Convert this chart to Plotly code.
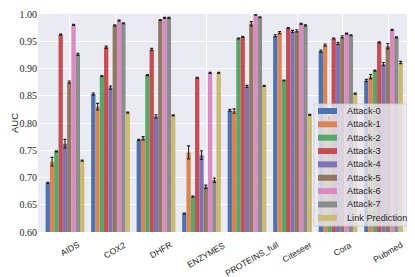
import plotly.graph_objects as go

categories = ["AIDS", "COX2", "DHFR", "ENZYMES", "PROTEINS_full", "Citeseer", "Cora", "Pubmed"]
series_names = ["Attack-0", "Attack-1", "Attack-2", "Attack-3", "Attack-4",
                "Attack-5", "Attack-6", "Attack-7", "Link Prediction"]

attack0 = [0.690, 0.853, 0.769, 0.634, 0.823, 0.960, 0.932, 0.878]
attack1 = [0.729, 0.830, 0.772, 0.746, 0.822, 0.966, 0.943, 0.885]
attack2 = [0.748, 0.886, 0.888, 0.665, 0.955, 0.878, 0.810, 0.896]
attack3 = [0.962, 0.939, 0.935, 0.883, 0.958, 0.974, 0.955, 0.948]
attack4 = [0.762, 0.865, 0.812, 0.741, 0.867, 0.968, 0.946, 0.908]
attack5 = [0.875, 0.979, 0.989, 0.683, 0.982, 0.969, 0.958, 0.941]
attack6 = [0.980, 0.988, 0.993, 0.892, 0.999, 0.982, 0.964, 0.971]
attack7 = [0.926, 0.983, 0.993, 0.695, 0.994, 0.979, 0.961, 0.957]
linkpred = [0.731, 0.819, 0.814, 0.892, 0.868, 0.815, 0.854, 0.911]

err0 = [0.001, 0.002, 0.001, 0.001, 0.002, 0.002, 0.002, 0.002]
err1 = [0.008, 0.006, 0.003, 0.012, 0.004, 0.002, 0.002, 0.004]
err2 = [0.001, 0.001, 0.001, 0.001, 0.001, 0.001, 0.002, 0.001]
err3 = [0.001, 0.002, 0.002, 0.001, 0.001, 0.001, 0.001, 0.001]
err4 = [0.008, 0.003, 0.003, 0.008, 0.002, 0.002, 0.002, 0.003]
err5 = [0.002, 0.001, 0.001, 0.003, 0.004, 0.002, 0.002, 0.005]
err6 = [0.001, 0.001, 0.001, 0.001, 0.001, 0.001, 0.001, 0.001]
err7 = [0.002, 0.001, 0.001, 0.004, 0.001, 0.001, 0.001, 0.001]
errlp = [0.001, 0.001, 0.001, 0.001, 0.001, 0.001, 0.001, 0.002]

y_ticks = [0.60, 0.65, 0.70, 0.75, 0.80, 0.85, 0.90, 0.95, 1.00]

values = [attack0, attack1, attack2, attack3, attack4, attack5, attack6, attack7, linkpred]
errors = [err0, err1, err2, err3, err4, err5, err6, err7, errlp]
colors = ["#4C72B0", "#DD8452", "#55A868", "#C44E52", "#8172B3",
          "#937860", "#DA8BC3", "#8C8C8C", "#CCB974"]

SANS = "Liberation Sans"
SERIF = "Liberation Serif"
TXT = "#262626"

xpos = list(range(len(categories)))
fig = go.Figure()
for name, vals, errs, col in zip(series_names, values, errors, colors):
    fig.add_trace(go.Bar(
        x=xpos, y=vals, name=name, marker=dict(color=col, line=dict(width=0)),
        error_y=dict(type="data", array=errs, color="#222222", thickness=1.1, width=1.5),
        showlegend=False,
    ))

# page geometry: the html body has an 8px margin, so the figure is offset by it
OFF = 8
PAGE_W, PAGE_H = 415, 277
PL, PR, PT, PB = 38, 411, 14, 232          # plot area on the page (px)
W, H = PAGE_W - OFF, PAGE_H - OFF
L, T = PL - OFF, PT - OFF
R, B = PAGE_W - PR, PAGE_H - PB
pw, ph = PR - PL, PB - PT

def px_x(p):
    return (p - PL) / pw

def px_y(p):
    return (PB - p) / ph

tick_off = 0.1
annotations = []
for i, c in enumerate(categories):
    annotations.append(dict(
        x=i + tick_off, xref="x", y=0, yref="paper", text=c, showarrow=False,
        textangle=-30, xanchor="center", yanchor="top", yshift=-5,
        font=dict(family=SANS, size=8.6, color=TXT)))

annotations.append(dict(x=px_x(14), xref="paper", y=0.5, yref="paper", text="AUC",
                        showarrow=False, textangle=-90, xanchor="center", yanchor="middle",
                        font=dict(family=SANS, size=9.5, color=TXT)))

shapes = []
# legend box
shapes.append(dict(type="rect", xref="paper", yref="paper",
                   x0=px_x(314), x1=px_x(407), y0=px_y(226), y1=px_y(104),
                   fillcolor="rgba(234,234,242,0.8)", line=dict(color="rgba(204,204,204,0.8)", width=1),
                   layer="above"))
for k, (name, col) in enumerate(zip(series_names, colors)):
    cy = 111 + 13.35 * k
    shapes.append(dict(type="rect", xref="paper", yref="paper",
                       x0=px_x(318), x1=px_x(337), y0=px_y(cy + 3), y1=px_y(cy - 3),
                       fillcolor=col, line=dict(width=0), layer="above"))
    annotations.append(dict(x=px_x(345), xref="paper", y=px_y(cy), yref="paper",
                            text=name, showarrow=False, xanchor="left", yanchor="middle",
                            font=dict(family=SANS, size=9.2, color=TXT)))

fig.update_layout(
    width=W, height=H, margin=dict(l=L, r=R, t=T, b=B, pad=0, autoexpand=False),
    paper_bgcolor="white", plot_bgcolor="#EAEAF2",
    barmode="group", bargap=0.15, bargroupgap=0,
    xaxis=dict(range=[-0.593, 7.604], tickmode="array", automargin=False,
               tickvals=[i + tick_off for i in xpos], showticklabels=False,
               showgrid=True, gridcolor="white", gridwidth=1, zeroline=False, ticks=""),
    yaxis=dict(range=[0.6, 1.0], tickmode="array", tickvals=y_ticks, automargin=False,
               ticktext=["%.2f" % v for v in y_ticks],
               showgrid=True, gridcolor="white", gridwidth=1, zeroline=False, ticks="",
               tickfont=dict(family=SERIF, size=10, color=TXT)),
    annotations=annotations, shapes=shapes,
)

fig.write_html("out.html")
